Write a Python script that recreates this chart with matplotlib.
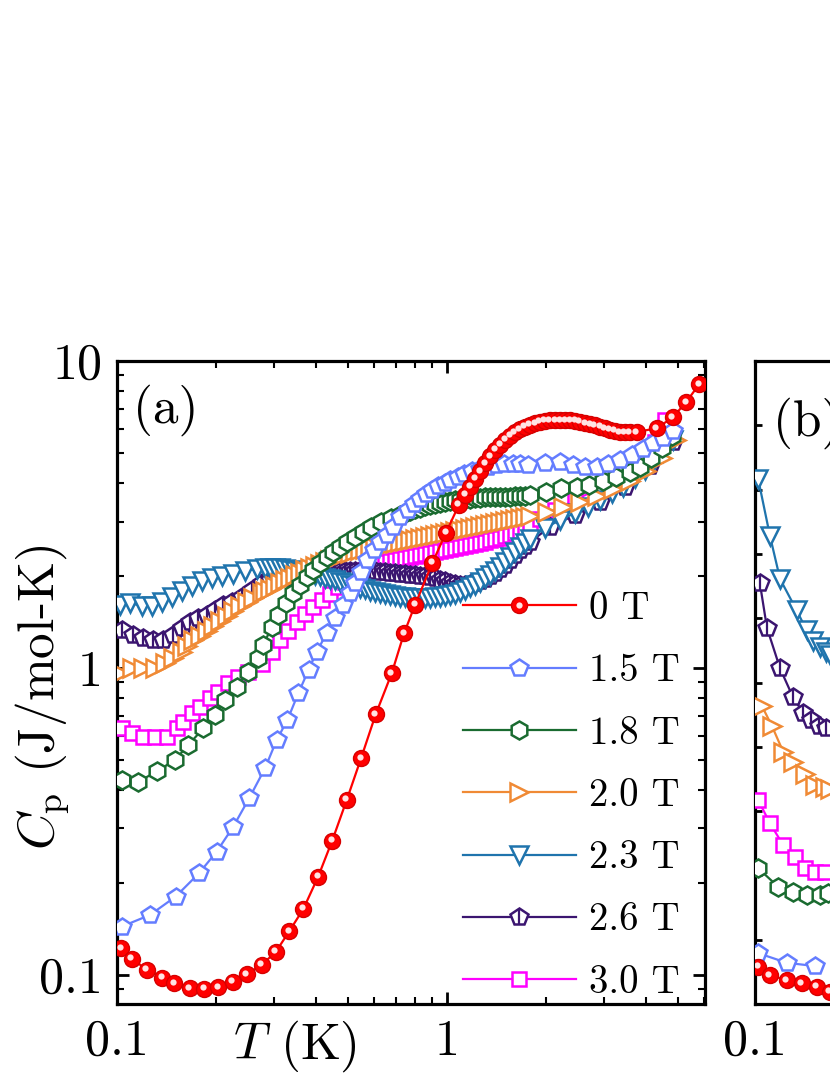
#------------------------------------------------------------------------------
# Specific heat Cp(T) at several magnetic fields, panel (a) and start of (b)
#------------------------------------------------------------------------------

import numpy as np
import matplotlib
matplotlib.use("Agg")
import matplotlib.pyplot as plt
import matplotlib.transforms as mtransforms
from matplotlib.lines import Line2D
from matplotlib.legend_handler import HandlerTuple
from matplotlib.ticker import LogLocator, NullFormatter, MultipleLocator

plt.rcParams['font.family'] = 'serif'
plt.rcParams['font.serif'] = ['cmr10']
plt.rcParams['mathtext.fontset'] = 'cm'
plt.rcParams['axes.unicode_minus'] = False

# ---------------- panel (a) data, T in K, Cp in J/mol-K ----------------
T_0T = [0.103, 0.111, 0.123, 0.137, 0.149, 0.166, 0.184, 0.203, 0.224, 0.247, 0.275, 0.303,
        0.333, 0.367, 0.407, 0.449, 0.497, 0.549, 0.608, 0.680, 0.741, 0.800, 0.903, 0.993, 1.087,
        1.134, 1.174, 1.216, 1.259, 1.304, 1.350, 1.398, 1.448, 1.499, 1.552, 1.607, 1.664,
        1.723, 1.784, 1.848, 1.913, 1.981, 2.051, 2.125, 2.200, 2.278, 2.359, 2.443, 2.529,
        2.619, 2.712, 2.808, 2.908, 3.011, 3.118, 3.228, 3.343, 3.462, 3.584,
        3.76, 4.32, 4.83, 5.30, 5.81]
C_0T = [0.122, 0.113, 0.104, 0.098, 0.094, 0.0905, 0.090, 0.091, 0.095, 0.1005, 0.108, 0.119,
        0.139, 0.164, 0.209, 0.274, 0.372, 0.508, 0.706, 0.961, 1.297, 1.604, 2.20, 2.76, 3.40,
        3.66, 3.89, 4.13, 4.38, 4.65, 4.90, 5.13, 5.33, 5.53, 5.70, 5.87, 6.00,
        6.10, 6.19, 6.26, 6.33, 6.38, 6.40, 6.42, 6.42, 6.42, 6.40, 6.38, 6.33,
        6.28, 6.23, 6.17, 6.10, 6.03, 5.96, 5.92, 5.87, 5.85, 5.85,
        5.87, 6.04, 6.55, 7.34, 8.40]

T_15T = [0.1033, 0.1259, 0.1506, 0.1772, 0.2005, 0.2250, 0.2515, 0.2809, 0.3048, 0.3284,
         0.3543, 0.3806, 0.4030, 0.4319, 0.4573, 0.4840, 0.5073, 0.5248, 0.5489, 0.5740,
         0.6004, 0.6280, 0.6568, 0.6870, 0.7186, 0.761, 0.794, 0.828, 0.865, 0.903,
         0.942, 0.983, 1.021, 1.077, 1.129, 1.19, 1.259, 1.33, 1.41, 1.49,
         1.58, 1.664, 1.763, 1.981, 2.200, 2.414, 2.619, 2.842, 3.08, 3.343,
         3.636, 3.93, 4.21, 4.51, 4.84]
C_15T = [0.1437, 0.1568, 0.180, 0.2144, 0.2521, 0.304, 0.3763, 0.4713, 0.5828, 0.677,
         0.827, 0.985, 1.130, 1.297, 1.452, 1.604, 1.751, 1.887, 2.059, 2.247,
         2.423, 2.578, 2.712, 2.886, 3.11, 3.27, 3.42, 3.55, 3.69, 3.80,
         3.92, 4.01, 4.10, 4.19, 4.28, 4.38, 4.45, 4.52, 4.57, 4.61,
         4.62, 4.62, 4.58, 4.65, 4.69, 4.58, 4.52, 4.52, 4.62, 4.76,
         4.94, 5.17, 5.41, 5.61, 5.92]

T_18T = [0.1033, 0.1160, 0.1319, 0.1499, 0.1645, 0.1826, 0.1981, 0.2124, 0.2305, 0.2497,
         0.2679, 0.2777, 0.2943, 0.3083, 0.3263, 0.3418, 0.3581, 0.3752, 0.3930, 0.4118,
         0.4314, 0.4520, 0.4736, 0.4962, 0.5259, 0.5570, 0.5902, 0.6327, 0.6780,
         0.7201, 0.7457, 0.7722, 0.7996, 0.8280, 0.8573, 0.8878, 0.9193, 0.9519, 0.9857,
         1.021, 1.057, 1.095, 1.134, 1.174, 1.216, 1.259, 1.304, 1.350, 1.398,
         1.448, 1.499, 1.552, 1.607, 1.664, 1.723, 1.784,
         2.00, 2.22, 2.47, 2.70, 2.97, 3.26, 3.58, 3.85, 4.15, 4.49, 4.82]
C_18T = [0.432, 0.426, 0.460, 0.502, 0.561, 0.636, 0.703, 0.787, 0.869, 0.973,
         1.076, 1.188, 1.363, 1.488, 1.624, 1.751, 1.864, 1.984, 2.085, 2.193,
         2.304, 2.392, 2.484, 2.578, 2.677, 2.780, 2.886, 2.996, 3.073,
         3.150, 3.198, 3.246, 3.283, 3.320, 3.358, 3.396, 3.422, 3.447, 3.473,
         3.499, 3.512, 3.526, 3.539, 3.552, 3.566, 3.579, 3.592, 3.592, 3.606,
         3.606, 3.606, 3.606, 3.619, 3.619, 3.633, 3.660,
         3.75, 3.85, 3.90, 3.95, 4.05, 4.20, 4.36, 4.52, 4.83, 5.21, 5.70]

# dense temperature grid shared by the middle sections of the 2.0-3.0 T curves
T_mid = [0.2808, 0.2908, 0.3011, 0.3118, 0.3228, 0.3343, 0.3462, 0.3584, 0.3712, 0.3843,
         0.3981, 0.4122, 0.4268, 0.4420, 0.4576, 0.4739, 0.4907, 0.5081, 0.5261, 0.5448,
         0.5641, 0.5842, 0.6049, 0.6264, 0.6486, 0.6716, 0.6955, 0.7201, 0.7457, 0.7722,
         0.7996, 0.8280, 0.8573, 0.8878, 0.9193, 0.9519, 0.9857, 1.021, 1.057, 1.095,
         1.134, 1.174, 1.216, 1.259, 1.304, 1.350, 1.398, 1.448, 1.499, 1.552,
         1.607, 1.664, 1.723, 1.784]

T_20T = ([0.1021, 0.1108, 0.1201, 0.1304, 0.1398, 0.1481, 0.1571, 0.1626, 0.1703, 0.1784,
          0.1870, 0.1958, 0.2051, 0.2149, 0.2251, 0.2359, 0.2472, 0.2588, 0.2745]
         + T_mid
         + [2.005, 2.246, 2.529, 2.848, 3.184, 3.584, 4.009, 4.483, 4.941])
C_20T = [0.963, 0.996, 0.996, 1.000, 1.038, 1.078, 1.127, 1.179, 1.234, 1.271,
         1.320, 1.370, 1.423, 1.477, 1.533, 1.592, 1.641, 1.690, 1.755,
         1.781, 1.808, 1.849, 1.891, 1.928, 1.964, 2.001, 2.039, 2.078, 2.117,
         2.149, 2.182, 2.214, 2.247, 2.282, 2.316, 2.343, 2.369, 2.396, 2.423,
         2.441, 2.459, 2.478, 2.497, 2.516, 2.534, 2.553, 2.572, 2.592, 2.611,
         2.631, 2.651, 2.671, 2.692, 2.712, 2.732, 2.753, 2.773, 2.794, 2.815,
         2.836, 2.858, 2.879, 2.901, 2.923, 2.945, 2.967, 2.989, 3.012, 3.034,
         3.057, 3.080, 3.103, 3.127,
         3.222, 3.345, 3.473, 3.633, 3.829, 4.066, 4.383, 4.831, 5.530]

T_23T = ([0.1021, 0.1095, 0.1188, 0.1274, 0.1366, 0.1465, 0.1571, 0.1684, 0.1806, 0.1936,
          0.2076, 0.2251, 0.2443, 0.2651]
         + T_mid
         + [1.981, 2.200, 2.443, 2.675, 2.908, 3.162, 3.415, 3.712, 3.981, 4.209, 4.512, 4.839])
C_23T = [1.604, 1.628, 1.592, 1.592, 1.641, 1.703, 1.781, 1.849, 1.920, 1.964,
         1.994, 2.024, 2.070, 2.101,
         2.117, 2.117, 2.117, 2.109, 2.101, 2.085, 2.070, 2.054, 2.039, 2.024,
         2.009, 1.994, 1.971, 1.950, 1.928, 1.906, 1.885, 1.864, 1.843, 1.823,
         1.802, 1.781, 1.768, 1.755, 1.742, 1.729, 1.716, 1.703, 1.697, 1.690,
         1.690, 1.690, 1.690, 1.690, 1.697, 1.703, 1.716, 1.729, 1.748, 1.768,
         1.795, 1.829, 1.864, 1.906, 1.957, 2.009, 2.070, 2.133, 2.214, 2.299,
         2.387, 2.478, 2.553, 2.631,
         2.858, 3.034, 3.198, 3.345, 3.526, 3.715, 3.886, 4.158, 4.416, 4.688, 5.053, 5.530]

T_26T = ([0.1033, 0.1121, 0.1201, 0.1288, 0.1381, 0.1481, 0.1571, 0.1664, 0.1763, 0.1870,
          0.1981, 0.2099, 0.2226, 0.2387, 0.2559, 0.2745]
         + T_mid[1:]
         + [2.051, 2.443, 2.908, 3.462, 4.122, 4.839])
C_26T = [1.330, 1.281, 1.249, 1.234, 1.234, 1.281, 1.347, 1.415, 1.452, 1.488,
         1.545, 1.604, 1.644, 1.707, 1.795, 1.887,
         1.934, 1.950, 1.964, 1.971, 1.979, 1.986, 1.994, 2.009, 2.016, 2.032,
         2.039, 2.047, 2.054, 2.062, 2.070, 2.070, 2.070, 2.070, 2.070, 2.070,
         2.070, 2.062, 2.054, 2.047, 2.039, 2.032, 2.024, 2.016, 2.009, 2.001,
         1.994, 1.986, 1.979, 1.957, 1.934, 1.913, 1.891, 1.877, 1.864, 1.864,
         1.877, 1.891, 1.920, 1.950, 1.994, 2.039, 2.101, 2.165, 2.247, 2.334,
         2.423, 2.497, 2.572,
         2.879, 3.150, 3.473, 3.886, 4.550, 5.447]

T_30T = ([0.1033, 0.1108, 0.1201, 0.1304, 0.1415, 0.1516, 0.1588, 0.1684, 0.1784, 0.1913,
          0.2028, 0.2175, 0.2331, 0.2500, 0.2745, 0.2943, 0.3118, 0.3304, 0.3503, 0.3712,
          0.3933, 0.4172, 0.4420, 0.4684]
         + T_mid[16:]
         + [1.913, 2.125, 2.443, 2.908, 3.462, 3.981, 4.268, 4.576])
C_30T = [0.6375, 0.6143, 0.5962, 0.5962, 0.5962, 0.6375, 0.6668, 0.7137, 0.7464, 0.7985,
         0.8353, 0.8936, 0.9347, 0.9705, 1.030, 1.127, 1.234, 1.320, 1.412, 1.500,
         1.580, 1.665, 1.742, 1.836,
         1.906, 1.950, 1.994, 2.039, 2.085, 2.117, 2.149, 2.182, 2.206, 2.231,
         2.247, 2.265, 2.282, 2.299, 2.316, 2.334, 2.351, 2.369, 2.387, 2.405,
         2.423, 2.441, 2.459, 2.478, 2.497, 2.516, 2.534, 2.553, 2.582, 2.602,
         2.631, 2.651, 2.682, 2.712, 2.753, 2.794, 2.858, 2.923,
         3.057, 3.271, 3.526, 3.857, 4.350, 4.941, 5.447, 6.42]

# ---------------- panel (b) data (only the low-T edge is in view) ----------------
Tb_0T = [0.1023, 0.1110, 0.1248, 0.1385, 0.1538, 0.1687]
Cb_0T = [0.058, 0.045, 0.037, 0.032, 0.027, 0.019]
Tb_15T = [0.1023, 0.1250, 0.1520]
Cb_15T = [0.079, 0.064, 0.059]
Tb_18T = [0.1023, 0.1177, 0.1304, 0.1434, 0.1574, 0.1664]
Cb_18T = [0.211, 0.182, 0.174, 0.169, 0.169, 0.172]
Tb_20T = [0.1048, 0.1124, 0.1218, 0.1306, 0.1417, 0.1520, 0.1630, 0.1688]
Cb_20T = [0.464, 0.433, 0.392, 0.376, 0.358, 0.340, 0.337, 0.335]
Tb_23T = [0.1023, 0.1110, 0.1191, 0.1338, 0.1434, 0.1502, 0.1574, 0.1641, 0.1687]
Cb_23T = [0.816, 0.728, 0.661, 0.612, 0.581, 0.565, 0.555, 0.547, 0.542]
Tb_26T = [0.1035, 0.1087, 0.1191, 0.1304, 0.1398, 0.1478, 0.1563, 0.1641]
Cb_26T = [0.654, 0.585, 0.522, 0.477, 0.453, 0.441, 0.432, 0.429]
Tb_30T = [0.1023, 0.1110, 0.1218, 0.1322, 0.1417, 0.1520, 0.1630]
Cb_30T = [0.317, 0.281, 0.247, 0.229, 0.211, 0.205, 0.205]

labels = ['0 T', '1.5 T', '1.8 T', '2.0 T', '2.3 T', '2.6 T', '3.0 T']
colors = ['#ff0000', '#647dff', '#1a6b30', '#f08a35', '#1f74ad', '#3b1570', '#ff00ff']
markers = ['o', 'p', 'h', '>', 'v', 'p', 's']
msizes = [11.5, 13, 13, 13.5, 13.5, 13, 9.5]

data_a = [(T_0T, C_0T), (T_15T, C_15T), (T_18T, C_18T), (T_20T, C_20T),
          (T_23T, C_23T), (T_26T, C_26T), (T_30T, C_30T)]
data_b = [(Tb_0T, Cb_0T), (Tb_15T, Cb_15T), (Tb_18T, Cb_18T), (Tb_20T, Cb_20T),
          (Tb_23T, Cb_23T), (Tb_26T, Cb_26T), (Tb_30T, Cb_30T)]

fig = plt.figure(figsize=(8.3, 10.75), dpi=100)
ax = fig.add_axes([117/830, 71/1075, 588/830, 643/1075])
axb = fig.add_axes([755/830, 71/1075, 588/830, 643/1075])


def draw(a, data):
    # field curves, highest field first so that 0 T ends up on top
    for i in range(6, -1, -1):
        T, C = data[i]
        z = 10 - i
        if i == 0:
            a.plot(T, C, '-', color=colors[0], lw=1.6, marker='o', ms=msizes[0],
                   mfc='#ff0000', mec='#d60000', mew=1.0, zorder=z)
            hl = mtransforms.offset_copy(a.transData, fig=fig, x=-1.5, y=1.5, units='dots')
            a.plot(T, C, 'o', ms=4.5, color='#ffe4e4', mec='none', transform=hl, zorder=z + 0.5)
        else:
            a.plot(T, C, '-', color=colors[i], lw=1.6, marker=markers[i], ms=msizes[i],
                   mfc='white', mec=colors[i], mew=1.8, zorder=z)
            if i == 5:
                a.plot(T, C, '|', ms=12, color=colors[i], mew=1.6, zorder=z)


draw(ax, data_a)
draw(axb, data_b)

#------------------------------------------------------------------------------
# axes styling
#------------------------------------------------------------------------------
for a in (ax, axb):
    a.set_xscale('log')
    a.set_xlim(0.1, 6.05)
    a.set_xticks([0.1, 1])
    a.set_xticklabels(['0.1', '1'])
    a.xaxis.set_minor_locator(LogLocator(base=10, subs=np.arange(2, 10)))
    a.xaxis.set_minor_formatter(NullFormatter())
    a.tick_params(which='both', direction='in', top=True, right=True, labelsize=36)
    a.tick_params(which='major', length=8.5, width=2)
    a.tick_params(which='minor', length=5, width=1.5)
    a.tick_params(axis='x', pad=11)
    a.tick_params(axis='y', pad=10)
    for s in a.spines.values():
        s.set_linewidth(2.3)

ax.set_yscale('log')
ax.set_ylim(0.0804, 10)
ax.set_yticks([0.1, 1, 10])
ax.set_yticklabels(['0.1', '1', '10'])
ax.yaxis.set_minor_locator(LogLocator(base=10, subs=np.arange(2, 10)))
ax.yaxis.set_minor_formatter(NullFormatter())

axb.set_ylim(0, 1.0)
axb.yaxis.set_major_locator(MultipleLocator(0.1))
axb.tick_params(axis='y', which='major', length=5, labelleft=False)

ax.set_xlabel(r'$T$ (K)', fontsize=37)
ax.xaxis.set_label_coords(0.303, -0.022)
ax.set_ylabel(r'$C_\mathrm{p}$ (J/mol-K)', fontsize=37)
ax.yaxis.set_label_coords(-0.077, 0.478)

ax.text(0.027, 0.924, '(a)', transform=ax.transAxes, fontsize=37, va='center', ha='left')
axb.text(0.031, 0.904, '(b)', transform=axb.transAxes, fontsize=37, va='center', ha='left')

# legend
handles = []
for i in range(7):
    if i == 0:
        h = (Line2D([], [], color=colors[0], lw=1.6, marker='o', ms=msizes[0],
                    mfc='#ff0000', mec='#d60000', mew=1.0),
             Line2D([], [], ls='none', marker='o', ms=4.5, color='#ffe4e4', mec='none'))
    elif i == 5:
        h = (Line2D([], [], color=colors[i], lw=1.6, marker='p', ms=msizes[i],
                    mfc='white', mec=colors[i], mew=1.8),
             Line2D([], [], ls='none', marker='|', ms=12, color=colors[i], mew=1.6))
    else:
        h = Line2D([], [], color=colors[i], lw=1.6, marker=markers[i], ms=msizes[i],
                   mfc='white', mec=colors[i], mew=1.8)
    handles.append(h)

ax.legend(handles, labels, handler_map={tuple: HandlerTuple(ndivide=1, pad=0)},
          loc='lower left', bbox_to_anchor=(0.588, 0.005), frameon=False, fontsize=28,
          handlelength=2.9, handletextpad=0.35, labelspacing=0.68,
          borderpad=0, borderaxespad=0)

fig.savefig('out.png', dpi=100)
